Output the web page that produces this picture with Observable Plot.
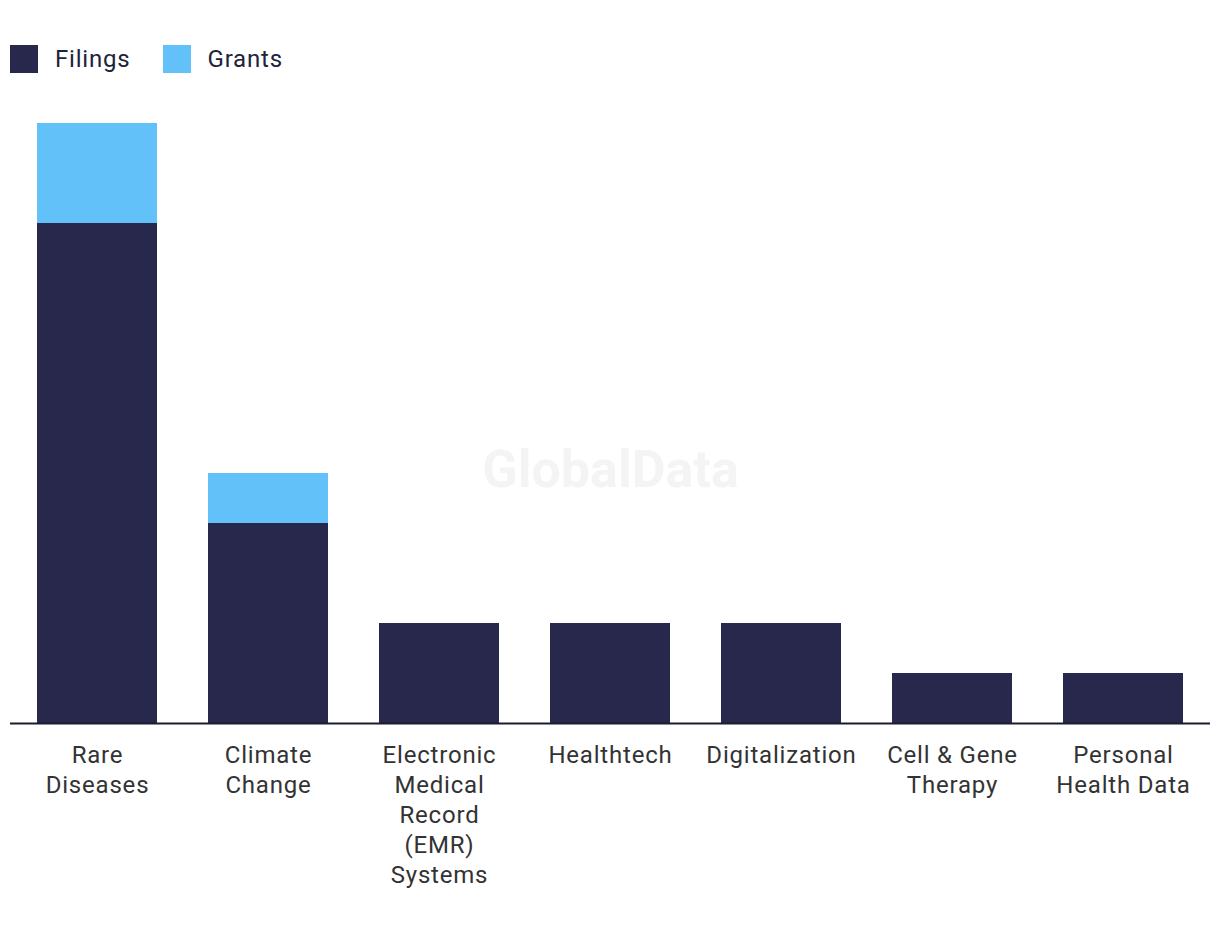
<!DOCTYPE html>
<html>
<head>
<meta charset="utf-8">
<script src="https://cdn.jsdelivr.net/npm/d3@7"></script>
<script src="https://cdn.jsdelivr.net/npm/@observablehq/plot@0.6"></script>
<style>
  html, body { margin: 0; padding: 0; background: #fff; }
  body { width: 1220px; height: 940px; position: relative; font-family: Roboto, "Noto Sans", sans-serif; }
  #legend { position: absolute; left: 10px; top: 45px; display: flex; align-items: center; font-size: 24px; letter-spacing: 0.8px; color: #22223a; }
  #legend .sw { width: 28px; height: 28px; display: inline-block; margin-right: 17px; }
  #legend .item { display: flex; align-items: center; margin-right: 32px; }
  #chart { position: absolute; left: 0; top: 0; }
</style>
</head>
<body>
<div id="legend"></div>
<div id="chart"></div>
<script>
const categories = ["Rare Diseases", "Climate Change", "Electronic Medical Record (EMR) Systems", "Healthtech", "Digitalization", "Cell & Gene Therapy", "Personal Health Data"];
const tickLabels = ["Rare\nDiseases", "Climate\nChange", "Electronic\nMedical\nRecord\n(EMR)\nSystems", "Healthtech", "Digitalization", "Cell & Gene\nTherapy", "Personal\nHealth Data"];
const filings = [10, 4, 2, 2, 2, 1, 1];
const grants = [2, 1, 0, 0, 0, 0, 0];
const seriesNames = ["Filings", "Grants"];
const seriesColors = ["#27284b", "#63c1f9"];

const rows = [];
categories.forEach((c, i) => {
  rows.push({category: c, series: "Filings", value: filings[i]});
  rows.push({category: c, series: "Grants", value: grants[i]});
});
const labelOf = new Map(categories.map((c, i) => [c, tickLabels[i]]));

const legend = document.getElementById("legend");
seriesNames.forEach((s, i) => {
  const item = document.createElement("div");
  item.className = "item";
  item.innerHTML = `<span class="sw" style="background:${seriesColors[i]}"></span><span>${s}</span>`;
  legend.appendChild(item);
});

const chart = Plot.plot({
  width: 1220,
  height: 940,
  marginTop: 123,
  marginBottom: 217,
  marginLeft: 10,
  marginRight: 10,
  style: {fontFamily: "Roboto, 'Noto Sans', sans-serif", background: "transparent"},
  x: {domain: categories, paddingInner: 0.3, paddingOuter: 0.15, label: null},
  y: {domain: [0, 12], axis: null},
  color: {domain: seriesNames, range: seriesColors},
  marks: [
    Plot.text(["GlobalData"], {frameAnchor: "middle", dy: 47, text: d => d, fontSize: 52, fontWeight: "bold", fill: "#f4f4f4"}),
    Plot.barY(rows, {x: "category", y: "value", fill: "series", order: seriesNames}),
    Plot.ruleY([0], {stroke: "#1c1c30", strokeWidth: 2}),
    Plot.axisX({tickSize: 0, tickPadding: 18, tickFormat: d => labelOf.get(d), fontSize: 24, lineHeight: 1.25, fill: "#333", label: null, textAnchor: "middle"})
  ]
});
chart.querySelectorAll("g[aria-label='x-axis tick label'] text").forEach(t => t.style.letterSpacing = "0.8px");
document.getElementById("chart").appendChild(chart);
</script>
</body>
</html>
